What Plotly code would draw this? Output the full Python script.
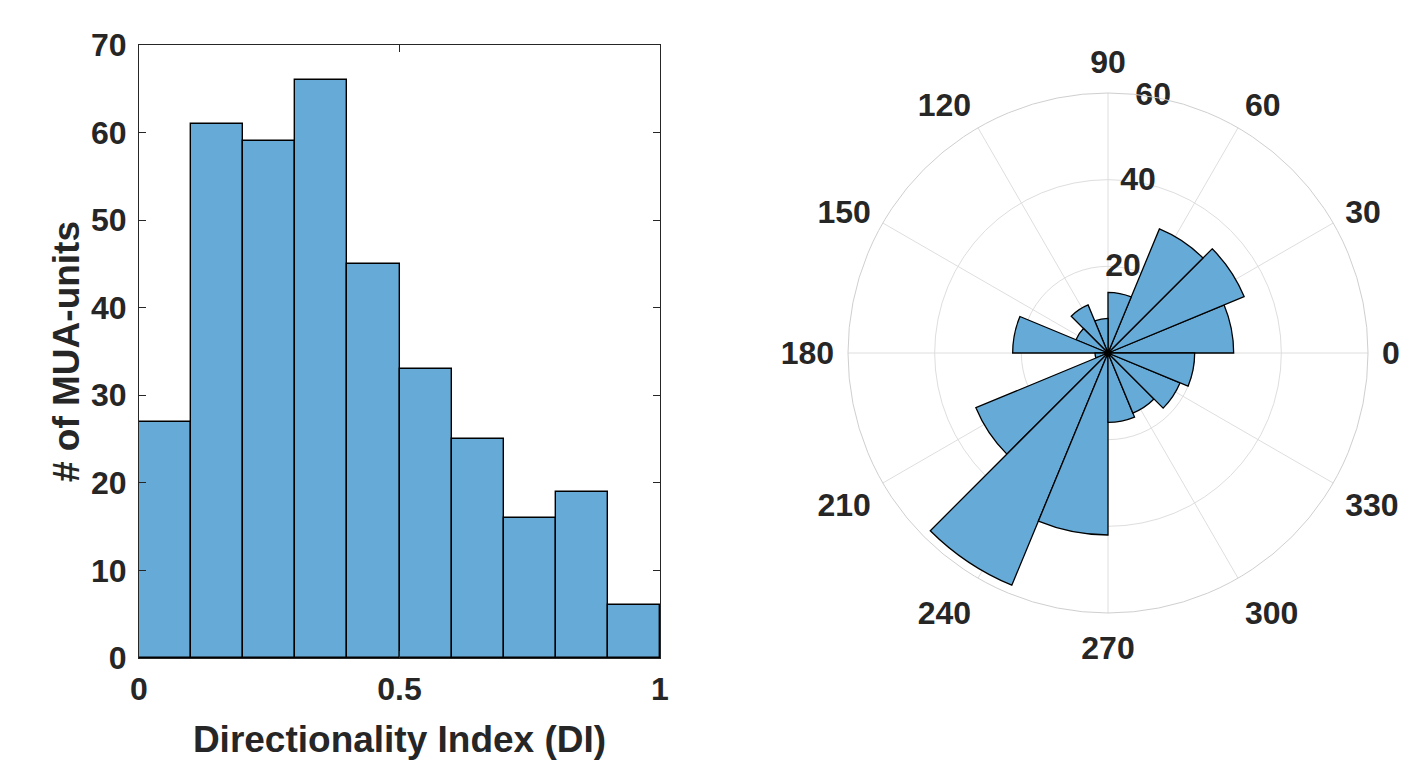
import numpy as np
import plotly.graph_objects as go

# ---------------- data ----------------
di_edges = [0.0, 0.1, 0.2, 0.3, 0.4, 0.5, 0.6, 0.7, 0.8, 0.9, 1.0]
di_counts = [27, 61, 59, 66, 45, 33, 25, 16, 19, 6]

dir_edges_deg = [0, 22.5, 45, 67.5, 90, 112.5, 135, 157.5, 180,
                 202.5, 225, 247.5, 270, 292.5, 315, 337.5, 360]
dir_counts = [29, 34, 31, 14, 8, 12, 8, 22, 3, 33, 58, 42, 16, 15, 18, 20]

x_tickvals = [0, 0.5, 1]
x_ticktext = ["0", "0.5", "1"]
y_tickvals = [0, 10, 20, 30, 40, 50, 60, 70]
ang_tickvals = [0, 30, 60, 90, 120, 150, 180, 210, 240, 270, 300, 330]
r_tickvals = [20, 40, 60]

# ---------------- style ----------------
FACE = "rgb(102,170,215)"
EDGE = "black"
TXT = "#262626"
FONT = "Liberation Sans"
TICK_SIZE = 32
TITLE_SIZE = 37
W, H = 1410, 767

di_centers = [(a + b) / 2 for a, b in zip(di_edges[:-1], di_edges[1:])]
di_widths = [b - a for a, b in zip(di_edges[:-1], di_edges[1:])]
dir_centers = [(a + b) / 2 for a, b in zip(dir_edges_deg[:-1], dir_edges_deg[1:])]
dir_widths = [b - a for a, b in zip(dir_edges_deg[:-1], dir_edges_deg[1:])]

fig = go.Figure()

fig.add_trace(go.Bar(
    x=di_centers, y=di_counts, width=di_widths,
    marker=dict(color=FACE, line=dict(color=EDGE, width=1.4)),
    xaxis="x", yaxis="y", showlegend=False, hoverinfo="x+y",
))

fig.add_trace(go.Barpolar(
    r=dir_counts, theta=dir_centers, width=dir_widths,
    marker=dict(color=FACE, line=dict(color=EDGE, width=1.3)),
    subplot="polar", showlegend=False,
))

fig.add_trace(go.Scatterpolar(
    r=r_tickvals, theta=[80] * len(r_tickvals),
    text=[str(v) for v in r_tickvals], mode="text",
    textposition="middle center", cliponaxis=False,
    textfont=dict(family=FONT, size=TICK_SIZE, color=TXT, weight="bold"),
    subplot="polar", showlegend=False, hoverinfo="skip",
))

axis_common = dict(
    showline=True, linecolor=TXT, linewidth=1,
    mirror="ticks", ticks="inside", ticklen=7, tickcolor=TXT, tickwidth=1,
    showgrid=False, zeroline=False, automargin=False,
    tickfont=dict(family=FONT, size=TICK_SIZE, color=TXT, weight="bold"),
)

fig.update_layout(
    width=W, height=H,
    margin=dict(l=0, r=0, t=0, b=0),
    paper_bgcolor="white", plot_bgcolor="white",
    bargap=0,
    xaxis=dict(
        domain=[139 / W, 660 / W], range=[0, 1],
        tickvals=x_tickvals, ticktext=x_ticktext, ticklabelstandoff=3,
        title=dict(text="Directionality Index (DI)", standoff=19,
                   font=dict(family=FONT, size=TITLE_SIZE, color=TXT, weight="bold")),
        anchor="y", **axis_common,
    ),
    yaxis=dict(
        domain=[1 - 658 / H, 1 - 45 / H], range=[0, 70],
        tickvals=y_tickvals, ticklabelstandoff=5,
        title=dict(text="# of MUA-units", standoff=0,
                   font=dict(family=FONT, size=TITLE_SIZE, color=TXT, weight="bold")),
        anchor="x", **axis_common,
    ),
    polar=dict(
        domain=dict(x=[848 / W, 1368 / W], y=[1 - 613 / H, 1 - 93 / H]),
        bgcolor="white",
        bargap=0,
        radialaxis=dict(
            range=[0, 60], tickvals=r_tickvals, showticklabels=False,
            showline=False, ticks="", gridcolor="#dedede", gridwidth=1,
        ),
        angularaxis=dict(
            rotation=0, direction="counterclockwise",
            tickmode="array", tickvals=ang_tickvals,
            ticktext=[str(v) for v in ang_tickvals],
            ticks="outside", ticklen=7, tickcolor="rgba(0,0,0,0)",
            showline=True, linecolor="#cfcfcf", linewidth=1,
            gridcolor="#dedede", gridwidth=1,
            tickfont=dict(family=FONT, size=TICK_SIZE, color=TXT, weight="bold"),
        ),
    ),
)

fig.write_html("out.html")
